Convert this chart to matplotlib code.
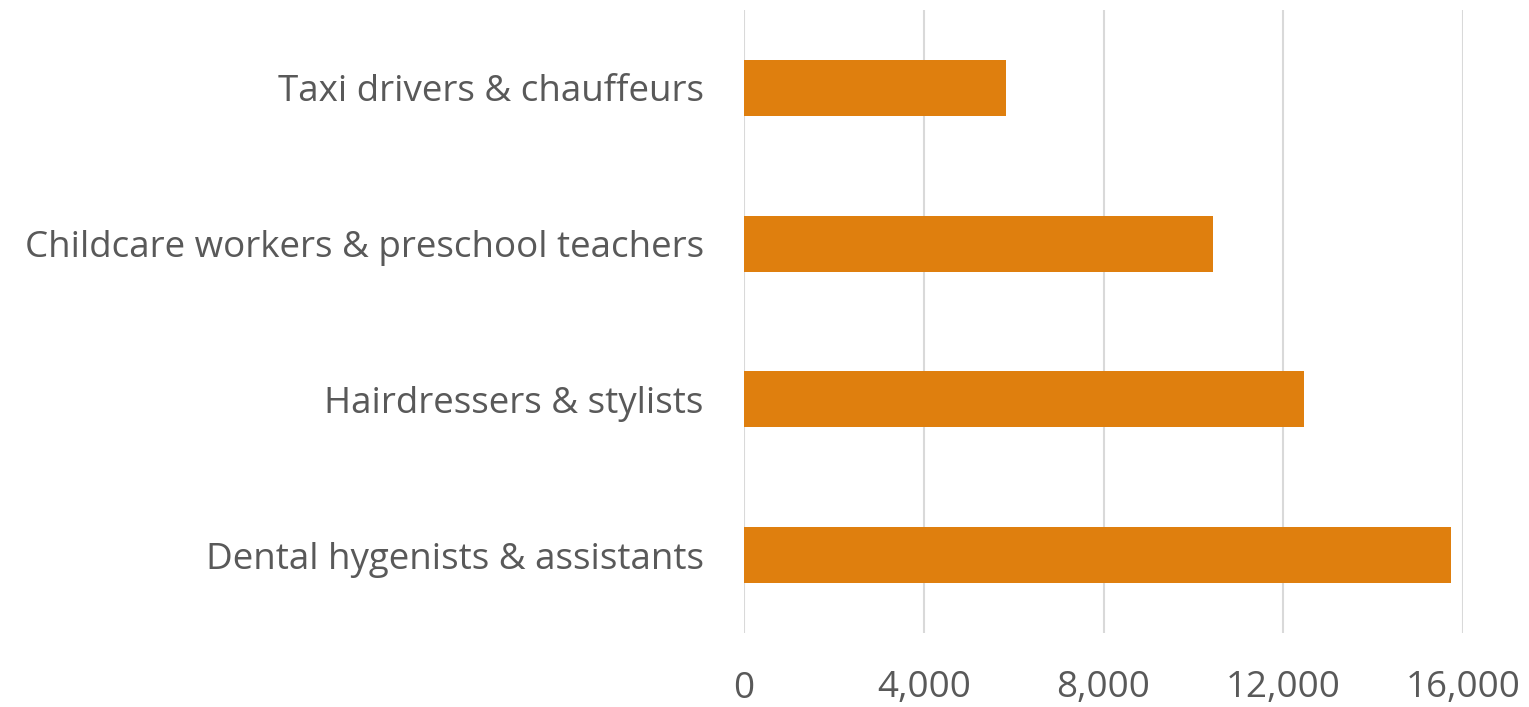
import matplotlib.pyplot as plt

occupations = ['Dental hygenists & assistants', 'Hairdressers & stylists',
               'Childcare workers & preschool teachers', 'Taxi drivers & chauffeurs']
values = [15730, 12460, 10440, 5820]
x_ticks = [0, 4000, 8000, 12000, 16000]

plt.rcParams['font.family'] = ['Open Sans', 'DejaVu Sans']
text_color = '#595959'

fig = plt.figure(figsize=(15.29, 7.07), dpi=100)
ax = fig.add_axes([744 / 1529, 1 - 633 / 707, (1463 - 744) / 1529, 623 / 707])

ypos = range(len(occupations))
ax.barh(ypos, values, height=0.36, color='#DF7F0E', zorder=3)

ax.set_xlim(0, 16000)
ax.set_ylim(-0.5, len(occupations) - 0.5)
ax.set_xticks(x_ticks)
ax.set_xticklabels([f'{v:,}' for v in x_ticks])
ax.set_yticks(list(ypos))
ax.set_yticklabels(occupations)
ax.grid(axis='x', color='#D9D9D9', linewidth=1.5, zorder=0)
ax.tick_params(axis='both', length=0, labelsize=26.5, colors=text_color)
ax.tick_params(axis='x', pad=27)
ax.tick_params(axis='y', pad=29)
for s in ax.spines.values():
    s.set_visible(False)

fig.savefig('out.png', dpi=100)
